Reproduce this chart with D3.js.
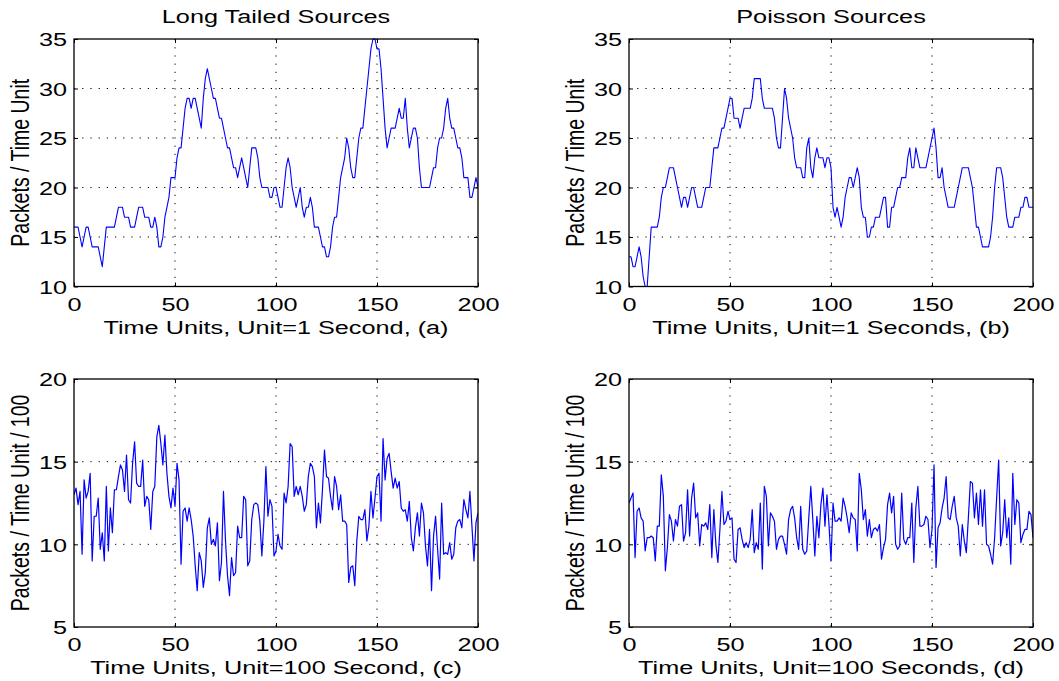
<!DOCTYPE html>
<html>
<head>
<meta charset="utf-8">
<script src="https://cdn.jsdelivr.net/npm/d3@7"></script>
<style>
  html, body { margin: 0; padding: 0; background: #fff; }
  svg { display: block; }
  text { font-family: "Liberation Sans", Arial, Helvetica, sans-serif; fill: #000; }
</style>
</head>
<body>
<script>
// ---------------- data ----------------
const xTicks = [0, 50, 100, 150, 200];
const yTicksTop = [10, 15, 20, 25, 30, 35];
const yTicksBottom = [5, 10, 15, 20];
const titles = ["Long Tailed Sources", "Poisson Sources"];
const xLabels = [
  "Time Units, Unit=1 Second, (a)",
  "Time Units, Unit=1 Seconds, (b)",
  "Time Units, Unit=100 Second, (c)",
  "Time Units, Unit=100 Seconds, (d)"
];
const yLabels = ["Packets / Time Unit", "Packets / Time Unit / 100"];

// (a) long tailed, 1 s units
const longTailed1s = [
  16,16,16,15,14,15,16,16,15,14,
  14,14,14,13,12,14,16,16,16,16,
  16,17,18,18,18,17,17,17,16,16,
  16,17,18,18,18,17,17,17,16,16,
  17,16,14,14,15,17,18,19,21,21,
  21,23,24,24,26,28,29,29,28,29,
  29,28,27,26,29,31,32,31,30,29,
  29,28,27,27,26,25,24,24,23,22,
  22,21,22,23,22,21,20,22,24,24,
  24,23,21,20,20,20,20,19,19,20,
  20,19,18,18,20,22,23,22,20,19,
  18,19,20,18,17,18,18,19,18,16,
  16,16,15,14,14,13,13,14,16,17,
  17,19,21,22,23,25,24,22,21,21,
  23,25,26,26,28,30,32,34,35,35,
  34,34,32,29,26,24,25,26,26,26,
  27,28,27,27,29,26,24,25,26,26,
  25,22,20,20,20,20,20,21,22,22,
  24,25,25,26,28,29,27,26,26,25,
  24,24,23,21,21,21,19,19,20,21,
  20
];

// (b) poisson, 1 s units
const poisson1s = [
  13,13,12,12,13,14,13,11,10,10,
  13,16,16,16,16,17,19,20,20,21,
  22,22,22,21,20,19,18,19,19,18,
  19,20,20,19,18,18,18,19,20,20,
  20,22,24,24,24,25,26,26,27,28,
  29,29,27,27,27,26,27,28,28,28,
  28,29,31,31,31,31,29,28,28,28,
  28,28,27,25,24,24,27,30,29,27,
  26,25,23,22,22,22,21,21,24,25,
  22,21,23,24,23,23,23,22,23,23,
  22,18,17,18,17,16,17,19,20,21,
  21,20,21,22,21,18,17,17,15,15,
  16,16,17,17,17,18,19,19,16,16,
  18,18,19,20,20,21,21,21,23,24,
  22,22,24,23,22,22,22,22,23,24,
  25,26,24,21,21,22,20,19,18,18,
  18,18,19,20,21,22,22,22,22,21,
  20,18,16,16,15,14,14,14,14,15,
  17,20,22,22,22,21,19,17,16,16,
  16,17,17,17,18,18,19,19,18,18,
  18
];

// (c) long tailed, 100 s units
const longTailed100s = [
  13.0,13.4,12.4,13.2,9.4,13.9,12.8,13.2,14.3,9.0,
  11.7,11.7,12.8,9.7,10.7,9.0,13.5,9.6,12.2,10.7,
  13.3,13.3,14.1,14.8,14.5,13.2,15.4,12.7,12.5,14.9,
  16.2,13.7,13.5,13.5,15.1,12.3,12.9,12.7,10.9,13.2,
  13.5,16.5,17.2,16.1,14.8,16.6,14.3,12.9,12.2,13.4,
  12.3,14.9,13.9,8.8,12.0,12.2,11.4,12.2,11.5,10.5,
  8.7,7.2,9.5,9.0,7.4,8.3,11.0,11.6,10.0,10.3,
  9.9,11.3,7.8,8.9,13.2,10.2,8.1,6.9,9.2,8.1,
  8.3,11.1,10.4,10.4,12.9,12.7,8.7,9.0,11.5,12.4,
  12.5,12.4,11.4,9.3,11.4,14.7,11.7,12.7,12.3,9.3,
  9.6,10.6,9.9,9.7,13.1,12.5,13.5,16.1,15.9,12.9,
  13.5,13.0,13.5,12.9,12.0,12.4,14.1,14.9,14.7,14.1,
  11.0,12.5,11.3,13.3,15.7,14.1,14.0,12.9,12.1,14.1,
  13.5,12.1,13.0,11.4,11.4,11.2,7.7,8.6,8.7,7.5,
  10.2,11.7,11.5,11.5,12.1,10.2,11.1,13.2,11.6,12.8,
  14.1,14.3,11.4,16.4,13.9,15.2,15.5,14.4,13.4,14.0,
  13.4,13.8,12.2,12.0,12.1,11.4,12.6,10.4,9.6,11.0,
  11.9,10.5,12.5,11.9,9.9,8.7,10.9,7.2,10.5,11.7,
  9.7,7.9,12.5,9.4,9.5,9.4,10.1,9.1,9.4,11.0,
  11.4,11.5,11.0,12.7,12.1,11.6,13.2,11.1,9.0,11.3,
  11.9
];

// (d) poisson, 100 s units
const poisson100s = [
  12.5,12.8,13.1,9.2,12.0,12.2,11.6,11.4,9.6,10.4,
  10.4,10.5,10.4,9.0,11.1,11.1,14.2,12.9,8.4,9.8,
  11.8,11.4,10.2,11.5,11.1,12.3,12.4,10.2,10.7,13.3,
  10.5,12.8,13.7,11.6,11.9,9.9,11.2,11.1,11.3,10.9,
  12.4,9.2,12.1,10.0,8.9,10.9,13.2,11.2,11.4,12.0,
  11.5,11.6,9.1,8.9,10.9,11.0,10.3,9.8,10.1,9.8,
  10.3,12.1,9.5,10.1,9.7,12.5,8.5,13.5,12.9,9.9,
  11.9,11.7,11.4,9.7,10.3,10.5,10.5,10.0,9.4,11.5,
  12.1,12.3,11.6,10.4,9.7,12.3,9.7,9.4,9.6,11.6,
  13.5,11.5,9.3,11.7,10.4,12.4,13.4,11.1,13.0,11.2,
  9.0,12.5,11.4,11.4,11.6,11.4,12.8,12.3,11.6,10.7,
  11.9,11.6,11.5,9.6,14.3,13.3,11.5,12.1,10.5,11.5,
  10.4,10.9,11.0,10.8,11.2,9.1,9.8,10.3,12.4,13.1,
  11.9,12.9,10.0,9.7,9.9,13.1,10.3,10.0,10.4,10.4,
  12.5,8.9,12.2,13.5,11.1,11.1,11.2,11.7,11.5,9.8,
  10.9,14.8,8.6,11.0,11.3,12.2,12.8,14.1,11.6,11.5,
  12.3,12.9,11.6,11.1,9.3,11.2,10.2,9.5,11.6,13.8,
  13.7,11.6,13.1,11.2,13.3,11.1,13.3,10.0,9.9,9.4,
  8.8,10.4,12.8,15.1,9.9,10.7,12.7,10.4,11.6,8.8,
  14.3,11.2,12.7,12.5,10.1,10.6,10.9,10.9,12.0,11.8,
  10.4
];

// ---------------- drawing ----------------
const W = 1059, H = 681;
const FS = 19, SX = 1.33;   // font size and horizontal stretch of the original figure
const lineColor = "#0000ff";

const panels = [
  { data: longTailed1s,   title: titles[0], xl: xLabels[0], yl: yLabels[0], yDom: [10, 35], yTicks: yTicksTop,    left: 74,  right: 478,  top: 39,  bottom: 286.5 },
  { data: poisson1s,      title: titles[1], xl: xLabels[1], yl: yLabels[0], yDom: [10, 35], yTicks: yTicksTop,    left: 629, right: 1033, top: 39,  bottom: 286.5 },
  { data: longTailed100s, title: null,      xl: xLabels[2], yl: yLabels[1], yDom: [5, 20],  yTicks: yTicksBottom, left: 74,  right: 478,  top: 379, bottom: 627 },
  { data: poisson100s,    title: null,      xl: xLabels[3], yl: yLabels[1], yDom: [5, 20],  yTicks: yTicksBottom, left: 629, right: 1033, top: 379, bottom: 627 }
];

const svg = d3.select("body").append("svg").attr("width", W).attr("height", H);

panels.forEach((p, k) => {
  const g = svg.append("g");
  const x = d3.scaleLinear().domain([0, 200]).range([p.left, p.right]);
  const y = d3.scaleLinear().domain(p.yDom).range([p.bottom, p.top]);
  const inner = p.yTicks.filter(v => v !== p.yDom[0] && v !== p.yDom[1]);
  const innerX = xTicks.filter(v => v !== 0 && v !== 200);

  // grid
  g.append("g").selectAll("line").data(innerX).join("line")
    .attr("x1", d => x(d)).attr("x2", d => x(d))
    .attr("y1", p.top).attr("y2", p.bottom)
    .attr("stroke", "#000").attr("stroke-width", 1)
    .attr("stroke-dasharray", "1.2,7");
  g.append("g").selectAll("line").data(inner).join("line")
    .attr("y1", d => y(d)).attr("y2", d => y(d))
    .attr("x1", p.left).attr("x2", p.right)
    .attr("stroke", "#000").attr("stroke-width", 1)
    .attr("stroke-dasharray", "1.2,7");

  // clip + data line
  const cid = "clip" + k;
  svg.append("clipPath").attr("id", cid).append("rect")
    .attr("x", p.left).attr("y", p.top - 1)
    .attr("width", p.right - p.left).attr("height", p.bottom - p.top + 2);
  const line = d3.line().x((d, i) => x(i)).y(d => y(d));
  g.append("path").datum(p.data)
    .attr("clip-path", `url(#${cid})`)
    .attr("fill", "none").attr("stroke", lineColor)
    .attr("stroke-width", k < 2 ? 1.1 : 1.2)
    .attr("stroke-linejoin", "round")
    .attr("d", line);

  // axes (inward ticks)
  const ax = (axis, tr) => {
    const a = g.append("g").attr("transform", tr).call(axis);
    a.select(".domain").remove();
    a.selectAll(".tick line").attr("stroke", "#000").attr("stroke-width", 1);
    return a;
  };
  const bx = ax(d3.axisBottom(x).tickValues(xTicks).tickSize(-4), `translate(0,${p.bottom})`);
  bx.selectAll("text")
    .attr("font-size", FS).attr("y", 0).attr("dy", 0)
    .attr("transform", `translate(0,24) scale(${SX},1)`);
  ax(d3.axisTop(x).tickValues(xTicks).tickSize(-4).tickFormat(""), `translate(0,${p.top})`);
  const ly = ax(d3.axisLeft(y).tickValues(p.yTicks).tickSize(-4), `translate(${p.left},0)`);
  ly.selectAll("text")
    .attr("font-size", FS).attr("x", 0).attr("dy", "0.36em")
    .attr("text-anchor", "end")
    .attr("transform", `translate(-7,0) scale(${SX},1)`);
  ax(d3.axisRight(y).tickValues(p.yTicks).tickSize(-4).tickFormat(""), `translate(${p.right},0)`);
  [bx, ly].forEach(a => a.selectAll("text").attr("fill", "#000").style("font-family", '"Liberation Sans", Arial, sans-serif'));

  // box
  g.append("rect")
    .attr("x", p.left).attr("y", p.top)
    .attr("width", p.right - p.left).attr("height", p.bottom - p.top)
    .attr("fill", "none").attr("stroke", "#000").attr("stroke-width", 1.3);

  const cx = (p.left + p.right) / 2;
  // title
  if (p.title) {
    g.append("text").attr("text-anchor", "middle").attr("font-size", FS)
      .attr("transform", `translate(${cx},23) scale(${SX},1)`)
      .text(p.title);
  }
  // x label
  g.append("text").attr("text-anchor", "middle").attr("font-size", FS)
    .attr("transform", `translate(${cx},${p.bottom + 47}) scale(${SX},1)`)
    .text(p.xl);
  // y label
  g.append("text").attr("text-anchor", "middle").attr("font-size", 19.5)
    .attr("transform", `translate(${p.left - 45},${(p.top + p.bottom) / 2}) scale(${SX},1) rotate(-90)`)
    .text(p.yl);
});
</script>
</body>
</html>
